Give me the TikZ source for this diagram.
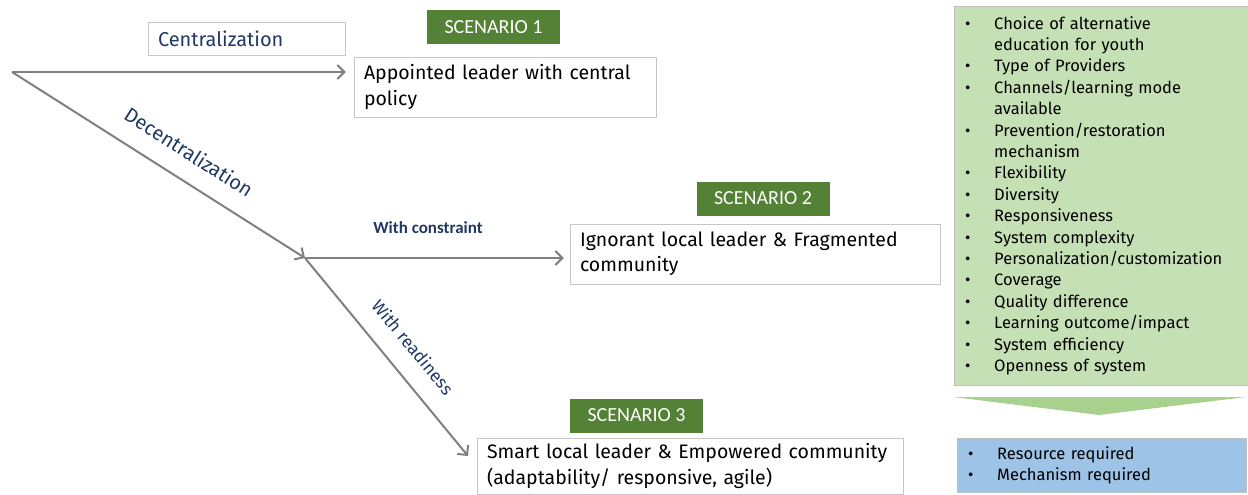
\documentclass[tikz,border=0pt]{standalone}
\usepackage{fontspec}
\setmainfont{Fira Sans}
\newfontfamily\calfont{Carlito}
\usetikzlibrary{arrows.meta}
\definecolor{scgreen}{HTML}{538135}
\definecolor{listgreen}{HTML}{C5E0B4}
\definecolor{trigreen}{HTML}{A9D18E}
\definecolor{reqblue}{HTML}{9DC3E6}
\definecolor{lblblue}{HTML}{203864}
\definecolor{arrgray}{HTML}{808080}
\newcommand{\itm}[1]{\makebox[29pt][l]{\textbullet}#1}
\newcommand{\cnt}[1]{\hspace*{29pt}#1}
\tikzset{
	scbox/.style={fill=scgreen,text=white,minimum width=133pt,minimum height=34pt,font=\calfont\fontsize{20}{22}\selectfont},
	leafbox/.style={draw=gray!45,align=left,inner xsep=10pt,font=\fontsize{19.5}{25.5}\selectfont},
	arr/.style={draw=arrgray,line width=2pt,-{Straight Barb[length=7pt,width=14pt]}},
	lbl/.style={text=lblblue,font=\fontsize{20}{22}\selectfont},
}
\begin{document}
\begin{tikzpicture}[x=1pt,y=-1pt]
	\useasboundingbox (0,0) rectangle (1248,495);
	% scenario headers
	\node[scbox] (s1) at (493.5,27) {SCENARIO 1};
	\node[scbox] (s2) at (763,198.5) {SCENARIO 2};
	\node[scbox] (s3) at (636.5,415.5) {SCENARIO 3};
	% scenario boxes
	\node[leafbox,minimum width=302pt,minimum height=60pt,text width=282pt] (b1) at (505,87) {Appointed leader with central\\policy};
	\node[leafbox,minimum width=370pt,minimum height=60pt,text width=350pt] (b2) at (755,254) {Ignorant local leader \& Fragmented\\community};
	\node[leafbox,minimum width=426pt,minimum height=56pt,text width=406pt] (b3) at (690,466) {Smart local leader \& Empowered community\\(adaptability/ responsive, agile)};
	\node[draw=gray!45,lbl,minimum width=197pt,minimum height=33pt,text width=177pt,align=left] (cen) at (246.5,38.5) {Centralization};
	% branches
	\coordinate (org) at (12,72);
	\coordinate (split) at (305,258);
	\coordinate (tip3) at (468,456);
	\draw[arr] (org) -- ([xshift=-8pt]org -| b1.west);
	\draw[arr] (org) -- (split);
	\draw[arr] (split) -- ([xshift=-6pt]split -| b2.west);
	\draw[arr] (split) -- (tip3);
	\node[lbl,rotate=-32.4] (dec) at (189,152) {Decentralization};
	\node[lbl,font=\calfont\fontsize{17}{19}\selectfont\bfseries] (con) at (428,228) {With constraint};
	\node[lbl,font=\fontsize{17.5}{19}\selectfont,rotate=-50.5] (rdy) at (413,347) {With readiness};
	% criteria list
	\node[draw=gray!50,fill=listgreen,anchor=north west,minimum width=294pt,minimum height=379pt,text width=272pt,inner xsep=11pt,inner ysep=8pt,align=left,font=\fontsize{16.5}{21.4}\selectfont] (lst) at (954,6) {%
		\itm{Choice of alternative}\\\cnt{education for youth}\\
		\itm{Type of Providers}\\
		\itm{Channels/learning mode}\\\cnt{available}\\
		\itm{Prevention/restoration}\\\cnt{mechanism}\\
		\itm{Flexibility}\\
		\itm{Diversity}\\
		\itm{Responsiveness}\\
		\itm{System complexity}\\
		\itm{Personalization/customization}\\
		\itm{Coverage}\\
		\itm{Quality difference}\\
		\itm{Learning outcome/impact}\\
		\itm{System efficiency}\\
		\itm{Openness of system}};
	\fill[trigreen] (953,397) -- (1246,397) -- (1099,415) -- cycle;
	\node[draw=gray!50,fill=reqblue,anchor=north west,minimum width=289pt,minimum height=54pt,text width=267pt,inner xsep=11pt,align=left,font=\fontsize{16.5}{21.4}\selectfont] (req) at (957,438) {%
		\itm{Resource required}\\
		\itm{Mechanism required}};
\end{tikzpicture}
\end{document}
